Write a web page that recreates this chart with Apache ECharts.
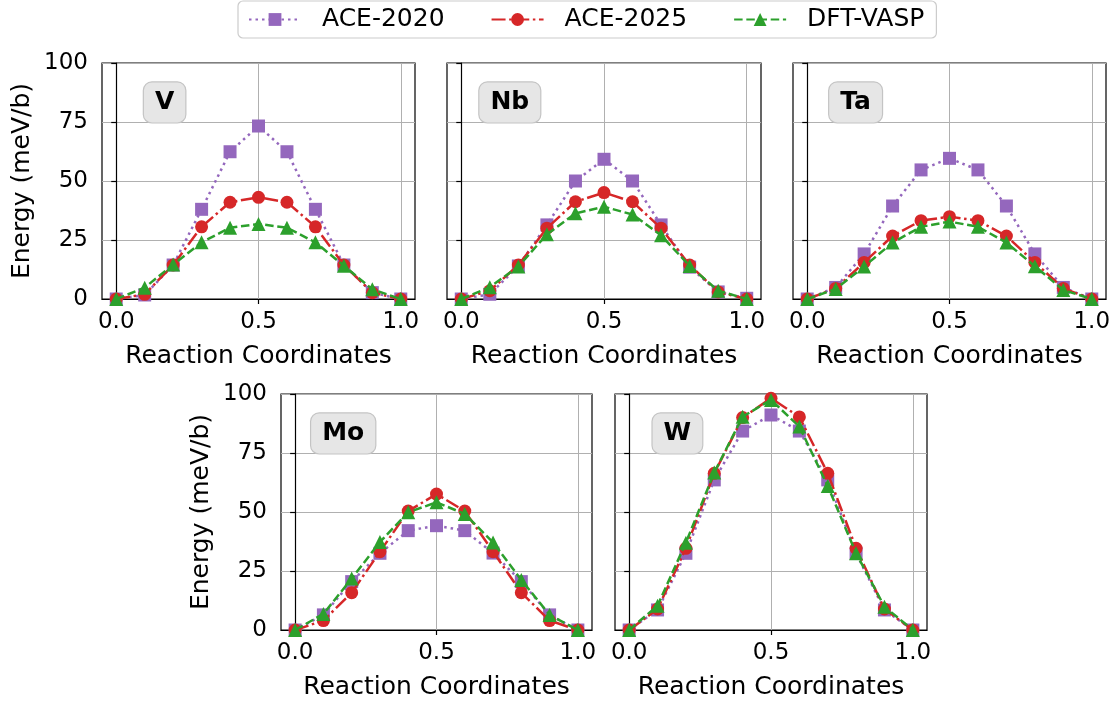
<!DOCTYPE html>
<html>
<head>
<meta charset="utf-8">
<script src="https://cdn.jsdelivr.net/npm/echarts@6/dist/echarts.min.js"></script>
<style>
  html, body { margin: 0; padding: 0; background: #ffffff; }
  #chart { width: 1119px; height: 705px; }
</style>
</head>
<body>
<div id="chart"></div>
<script>
// Reaction coordinate along the path
const coords = [0.0, 0.1, 0.2, 0.3, 0.4, 0.5, 0.6, 0.7, 0.8, 0.9, 1.0];
const xTickValues = [0.0, 0.5, 1.0];
const seriesNames = ['ACE-2020', 'ACE-2025', 'DFT-VASP'];
const elements = ['V', 'Nb', 'Ta', 'Mo', 'W'];

// Energy barriers (meV/b)
const V_ace2020  = [0, 1.7, 14.4, 38.0, 62.4, 73.3, 62.4, 38.0, 14.4, 2.7, 0];
const V_ace2025  = [0, 2.0, 14.4, 30.6, 41.0, 43.1, 41.0, 30.6, 14.4, 2.7, 0];
const V_dft      = [0, 4.8, 14.6, 24.0, 30.2, 31.8, 30.2, 24.0, 14.1, 4.1, 0];

const Nb_ace2020 = [0, 2.0, 14.0, 31.4, 50.0, 59.2, 50.0, 31.4, 13.5, 3.0, 0.3];
const Nb_ace2025 = [0, 3.5, 14.4, 30.0, 41.2, 45.1, 41.2, 30.0, 14.4, 3.0, 0];
const Nb_dft     = [0, 5.0, 13.8, 27.4, 36.3, 39.1, 35.8, 27.0, 14.0, 3.5, 0];

const Ta_ace2020 = [0, 4.9, 19.1, 39.4, 54.7, 59.6, 54.7, 39.4, 19.1, 4.9, 0];
const Ta_ace2025 = [0, 4.5, 15.5, 26.7, 33.2, 34.9, 33.2, 26.7, 15.5, 4.5, 0];
const Ta_dft     = [0, 4.2, 13.8, 23.9, 30.6, 32.8, 30.6, 23.9, 13.9, 3.8, 0];

const Mo_ace2020 = [0, 6.4, 20.5, 32.5, 42.1, 44.2, 42.1, 32.6, 20.5, 6.4, 0];
const Mo_ace2025 = [0, 4.0, 15.8, 33.2, 50.4, 57.6, 50.4, 33.2, 15.8, 4.0, 0];
const Mo_dft     = [0, 6.8, 21.8, 37.3, 49.9, 54.1, 49.2, 37.1, 21.2, 6.4, 0];

const W_ace2020  = [0, 8.5, 32.5, 63.6, 84.3, 91.1, 84.3, 63.6, 32.5, 8.5, 0];
const W_ace2025  = [0, 8.9, 34.6, 66.4, 90.0, 98.2, 90.3, 66.4, 34.6, 8.9, 0];
const W_dft      = [0, 10.3, 37.0, 66.7, 90.4, 97.5, 86.2, 61.0, 32.5, 9.9, 0];

const panelData = [
  [V_ace2020, V_ace2025, V_dft],
  [Nb_ace2020, Nb_ace2025, Nb_dft],
  [Ta_ace2020, Ta_ace2025, Ta_dft],
  [Mo_ace2020, Mo_ace2025, Mo_dft],
  [W_ace2020, W_ace2025, W_dft]
];

// Subplot rectangles in pixels
const panels = [
  { left: 102, top: 63,  width: 313, height: 236, showY: true },
  { left: 447, top: 63,  width: 314, height: 236, showY: false },
  { left: 793, top: 63,  width: 313, height: 236, showY: false },
  { left: 281, top: 394, width: 311, height: 236, showY: true },
  { left: 615, top: 394, width: 312, height: 236, showY: false }
];

const FONT = 'DejaVu Sans';
const styles = [
  { color: '#9467bd', symbol: 'rect',     size: 13, dash: [2.5, 4] },
  { color: '#d62728', symbol: 'circle',   size: 13, dash: [14, 3.6, 2.5, 3.6] },
  { color: '#2ca02c', symbol: 'triangle', size: 14, dash: [8.5, 3.7] }
];

const grids = [], xAxes = [], yAxes = [], series = [], graphics = [];

panels.forEach((p, i) => {
  grids.push({
    left: p.left, top: p.top, width: p.width, height: p.height,
    show: true, borderColor: '#000', borderWidth: 1.2, backgroundColor: '#fff',
    containLabel: false
  });
  xAxes.push({
    type: 'value', gridIndex: i, min: -0.05, max: 1.05,
    name: 'Reaction Coordinates', nameLocation: 'middle', nameGap: 45,
    nameTextStyle: { fontFamily: FONT, fontSize: 25, color: '#000' },
    axisLine: { show: true, onZero: false, lineStyle: { color: '#000', width: 1.2 } },
    axisTick: { show: true, length: 5, inside: false, customValues: xTickValues,
                lineStyle: { color: '#000', width: 1.2 } },
    axisLabel: { show: true, margin: 12, customValues: xTickValues,
                 fontFamily: FONT, fontSize: 23, color: '#000',
                 formatter: v => v.toFixed(1) },
    splitLine: { show: true, customValues: xTickValues, lineStyle: { color: '#b0b0b0', width: 1 } }
  });
  yAxes.push({
    type: 'value', gridIndex: i, min: 0, max: 100, interval: 25,
    name: p.showY ? 'Energy (meV/b)' : '', nameLocation: 'middle', nameGap: 67,
    nameTextStyle: { fontFamily: FONT, fontSize: 25, color: '#000' },
    axisLine: { show: true, lineStyle: { color: '#000', width: 1.2 } },
    axisTick: { show: true, length: 5, inside: false, lineStyle: { color: '#000', width: 1.2 } },
    axisLabel: { show: p.showY, margin: 14, fontFamily: FONT, fontSize: 23, color: '#000' },
    splitLine: { show: true, lineStyle: { color: '#b0b0b0', width: 1 } }
  });

  panelData[i].forEach((vals, k) => {
    const s = styles[k];
    series.push({
      type: 'line', name: seriesNames[k], xAxisIndex: i, yAxisIndex: i,
      data: coords.map((x, j) => [x, vals[j]]),
      symbol: s.symbol, symbolSize: s.size, showSymbol: true, showAllSymbol: true,
      lineStyle: { color: s.color, width: 2.5, type: s.dash, cap: 'butt' },
      itemStyle: { color: s.color },
      emphasis: { disabled: true },
      z: 2 + k, clip: true, animation: false
    });
  });

  // Element tag in the upper-left part of each subplot
  graphics.push({
    type: 'text',
    x: p.left + 0.2 * p.width,
    y: p.top + 0.167 * p.height,
    z: 100,
    style: {
      text: elements[i],
      font: 'bold 25px "' + FONT + '"',
      fill: '#000',
      align: 'center', verticalAlign: 'middle',
      backgroundColor: '#e6e6e6', borderColor: '#c4c4c4', borderWidth: 1.2,
      borderRadius: 8, padding: [8, 11, 7, 11]
    }
  });
});

const chart = echarts.init(document.getElementById('chart'), null, { renderer: 'canvas' });
chart.setOption({
  animation: false,
  backgroundColor: '#fff',
  textStyle: { fontFamily: FONT },
  legend: {
    data: seriesNames,
    left: 238, top: 1,
    padding: [6, 12, 6, 10],
    itemGap: 46, itemWidth: 52, itemHeight: 16,
    backgroundColor: '#fff', borderColor: '#cccccc', borderWidth: 1.2, borderRadius: 5,
    textStyle: { fontFamily: FONT, fontSize: 25, color: '#000', padding: [0, 0, 0, 16] }
  },
  grid: grids,
  xAxis: xAxes,
  yAxis: yAxes,
  series: series,
  graphic: graphics
});
</script>
</body>
</html>
